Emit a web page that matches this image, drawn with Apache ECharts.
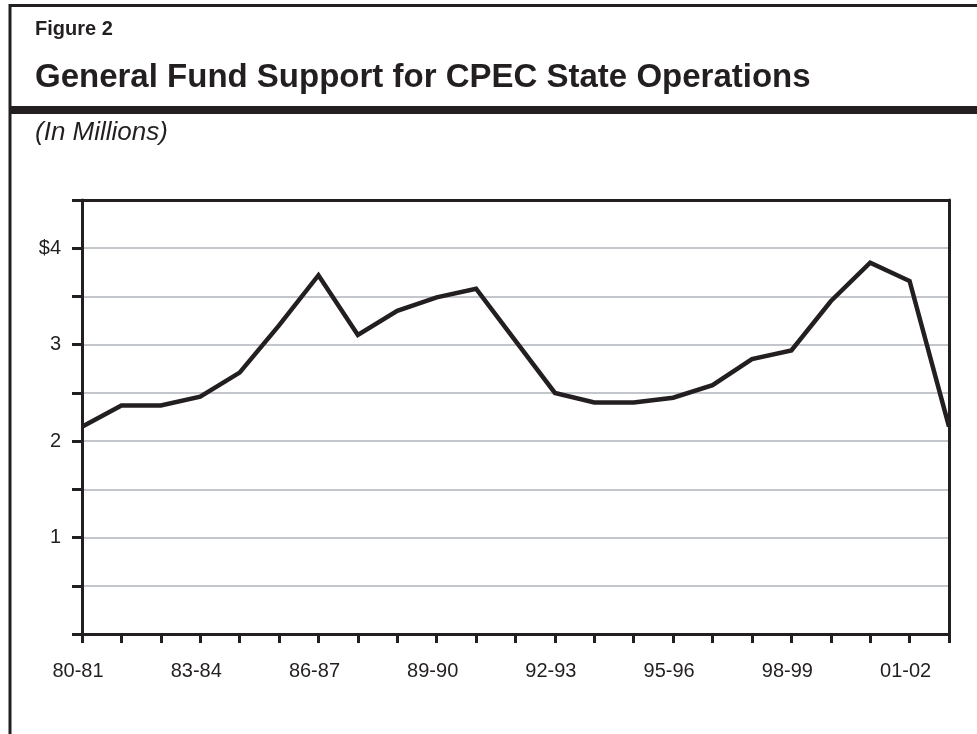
<!DOCTYPE html>
<html>
<head>
<meta charset="utf-8">
<script src="https://cdn.jsdelivr.net/npm/echarts@6/dist/echarts.min.js"></script>
<style>
html,body{margin:0;padding:0;background:#fff;}
#chart{width:977px;height:734px;}
</style>
</head>
<body>
<div id="chart"></div>
<script>
var categories = ['80-81','81-82','82-83','83-84','84-85','85-86','86-87','87-88','88-89','89-90','90-91','91-92','92-93','93-94','94-95','95-96','96-97','97-98','98-99','99-00','00-01','01-02','02-03'];
var fundValues = [2.15,2.37,2.37,2.46,2.71,3.2,3.72,3.1,3.35,3.49,3.58,3.04,2.5,2.4,2.4,2.45,2.58,2.85,2.94,3.45,3.85,3.66,2.15];
var figureLabel = 'Figure 2';
var titleText = 'General Fund Support for CPEC State Operations';
var unitText = '(In Millions)';

var ink = '#231f20';
var chart = echarts.init(document.getElementById('chart'));
chart.setOption({
  animation: false,
  backgroundColor: '#ffffff',
  textStyle: { fontFamily: 'Liberation Sans, Arial, sans-serif' },
  graphic: [
    { type: 'line', shape: { x1: 9, y1: 5.5, x2: 977, y2: 5.5 }, style: { stroke: ink, lineWidth: 3 } },
    { type: 'line', shape: { x1: 10, y1: 4, x2: 10, y2: 734 }, style: { stroke: ink, lineWidth: 3 } },
    { type: 'rect', shape: { x: 9, y: 106, width: 968, height: 8 }, style: { fill: ink } },
    { type: 'text', left: 35, top: 19, style: { text: figureLabel, fill: ink, font: 'bold 20px "Liberation Sans", Arial, sans-serif' } },
    { type: 'text', left: 35, top: 61, style: { text: titleText, fill: ink, font: 'bold 33px "Liberation Sans", Arial, sans-serif' } },
    { type: 'text', left: 35, top: 120, style: { text: unitText, fill: ink, font: 'italic 26px "Liberation Sans", Arial, sans-serif' } }
  ],
  grid: {
    left: 82, right: 28, top: 200, bottom: 100
  },
  xAxis: [{
    type: 'category',
    data: categories,
    boundaryGap: false,
    z: 3,
    axisLine: { lineStyle: { color: ink, width: 3 } },
    axisTick: { show: true, interval: 0, length: 9, lineStyle: { color: ink, width: 3 } },
    axisLabel: { interval: 2, color: ink, fontSize: 20, margin: 27, padding: [0, 8, 0, 0] },
    splitLine: { show: false }
  }, {
    type: 'category',
    data: categories,
    boundaryGap: false,
    position: 'top',
    z: 3,
    axisLine: { show: true, onZero: false, lineStyle: { color: ink, width: 3 } },
    axisTick: { show: false },
    axisLabel: { show: false },
    splitLine: { show: false }
  }],
  yAxis: [{
    type: 'value',
    min: 0, max: 4.5, interval: 0.5,
    z: 3,
    axisLine: { show: true, lineStyle: { color: ink, width: 3 } },
    axisTick: { show: true, length: 10, lineStyle: { color: ink, width: 3 } },
    axisLabel: {
      color: ink, fontSize: 20, margin: 21,
      formatter: function (v) {
        if (v === 4) return '$4';
        if (v > 0 && Math.abs(v - Math.round(v)) < 1e-9) return String(v);
        return '';
      }
    },
    splitLine: { show: true, showMinLine: false, showMaxLine: false, lineStyle: { color: '#c3c7cc', width: 2 } }
  }, {
    type: 'value',
    min: 0, max: 4.5, interval: 0.5,
    position: 'right',
    z: 3,
    axisLine: { show: true, onZero: false, lineStyle: { color: ink, width: 3 } },
    axisTick: { show: false },
    axisLabel: { show: false },
    splitLine: { show: false }
  }],
  series: [{
    type: 'line',
    data: fundValues,
    symbol: 'none',
    lineStyle: { color: ink, width: 4.5, join: 'miter' },
    z: 5
  }]
});
</script>
</body>
</html>
